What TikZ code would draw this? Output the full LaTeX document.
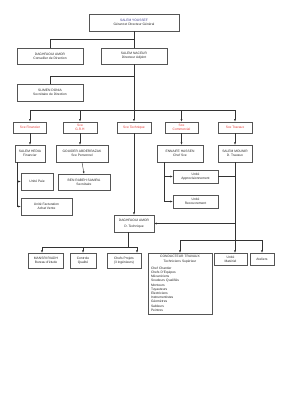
\documentclass[tikz,border=0pt]{standalone}
\usepackage{fontspec}
\setmainfont{Liberation Sans}
\usetikzlibrary{arrows.meta,calc}
\definecolor{boxc}{HTML}{555555}
\definecolor{linec}{HTML}{333333}
\definecolor{redt}{HTML}{E53935}
\definecolor{bluet}{HTML}{3A3A8C}
\begin{document}
\begin{tikzpicture}[x=1pt,y=-1pt,
  font=\fontsize{3.3}{4.2}\selectfont,
  box/.style={draw=boxc, line width=0.45pt, fill=white, inner sep=0pt, align=center, text=black!85},
  redbox/.style={box, text=redt},
  conn/.style={draw=linec, line width=0.4pt},
  arr/.style={conn, -{Latex[length=2.4pt,width=2pt]}}]
\useasboundingbox[fill=white] (0,0) rectangle (283,400);

% top levels
\node[box, minimum width=90pt, minimum height=17pt] (top) at (134,22.5) {{\color{bluet}SALEM YOUSSEF}\\Gérant et Directeur Général};
\node[box, minimum width=66pt, minimum height=16pt] (cons) at (50,56) {DAGHFAOUI AMOR\\Conseiller de Direction};
\node[box, minimum width=66pt, minimum height=16pt] (adj) at (134,56) {SALEM NACEUR\\Directeur Adjoint};
\node[box, minimum width=66pt, minimum height=17pt] (sec) at (50,92.5) {SLIMEN DONIA\\Secrétaire de Direction};

% services
\node[redbox, minimum width=33pt, minimum height=11.5pt] (fin) at (30,127.5) {Sce Financier};
\node[redbox, minimum width=34pt, minimum height=11.5pt] (grh) at (80,127.5) {Sce\\G.R.H};
\node[redbox, minimum width=34pt, minimum height=11.5pt] (tech) at (134,127.5) {Sce Technique};
\node[redbox, minimum width=33pt, minimum height=11.5pt] (com) at (181.5,127.5) {Sce\\Commercial};
\node[redbox, minimum width=34pt, minimum height=11.5pt] (trav) at (235,127.5) {Sce Travaux};

% second row
\node[box, minimum width=30pt, minimum height=17pt] (hedia) at (30,153.5) {SALEM HEDIA\\Financier};
\node[box, minimum width=52pt, minimum height=17pt] (gouider) at (82,153.5) {GOUIDER ABDERRAZAK\\Sce Personnel};
\node[box, minimum width=46pt, minimum height=17pt] (ennaife) at (180,153.5) {ENNAIFE HASSEN\\Chef Sce};
\node[box, minimum width=34pt, minimum height=17pt] (mounir) at (235,153.5) {SALEM MOUNIR\\D. Travaux};

% units
\node[box, minimum width=52pt, minimum height=16pt] (rabeh) at (84,182) {BEN RABEH SAMIRA\\Secrétaire};
\node[box, minimum width=32pt, minimum height=17pt] (paie) at (37,181.5) {Unité Paie};
\node[box, minimum width=51pt, minimum height=17pt] (factu) at (46.5,206.5) {Unité Facturation\\Achat Vente};
\node[box, minimum width=45pt, minimum height=13pt] (appro) at (195.5,176.5) {Unité\\Approvisionnement};
\node[box, minimum width=45pt, minimum height=13pt] (recouv) at (195.5,201.5) {Unité\\Recouvrement};

% technique
\node[box, minimum width=40pt, minimum height=17pt] (dtech) at (134,223.5) {DAGHFAOUI AMOR\\[2pt]D. Technique};
\node[box, minimum width=35pt, minimum height=15pt] (mansri) at (46,260.5) {MANSRI RIADH\\Bureau d'étude};
\node[box, minimum width=26pt, minimum height=15pt] (ctrl) at (83,260.5) {Controle\\Qualité};
\node[box, minimum width=34pt, minimum height=15pt] (chefs) at (124,260.5) {Chefs Projets\\(3 ingénieurs)};
\node[box, minimum width=64pt, minimum height=61pt, text width=58pt, align=left] (cond) at (180,283.5)
  {\makebox[58pt][c]{CONDUCTEUR TRAVAUX}\\\makebox[58pt][c]{Techniciens Supérieur}\\[3pt]
   Chef Chantier\\Chefs D'Equipes\\Mécaniciens\\Soudeurs Qualifiés\\Monteurs\\Tuyauteurs\\Electriciens\\Instrumentistes\\Géomètres\\Sableurs\\Peintres};
\node[box, minimum width=33pt, minimum height=12pt] (mat) at (230.5,259) {Unité\\Matériel};
\node[box, minimum width=24pt, minimum height=12pt] (atel) at (262,259) {Ateliers};

% junction coordinates
\coordinate (j1) at (134,39);
\coordinate (j2) at (134,76);
\coordinate (bus) at (134,110);
\coordinate (hv) at (17,162);
\coordinate (ev) at (164,162);
\coordinate (bus3) at (235,240);
\coordinate (dv) at (128,232);
\coordinate (bus2) at (128,247);

% connectors top
\draw[conn] (top.south) -- (adj.north);
\draw[conn] (j1) -| (cons.north);
\draw[conn] (adj.south) -- (bus);
\draw[conn] (j2) -| (sec.north);
\draw[conn] (fin.north |- bus) -- (trav.north |- bus);
\foreach \n in {fin,grh,tech,com,trav}{\draw[arr] (\n.north |- bus) -- (\n.north);}

\draw[arr] (fin.south) -- (fin.south |- hedia.north);
\draw[arr] (grh.south) -- (grh.south |- gouider.north);
\draw[arr] (com.south) -- (com.south |- ennaife.north);
\draw[arr] (trav.south) -- (mounir.north);
\draw[arr] (tech.south) -- (dtech.north);
\draw[arr] (gouider.south) -- (rabeh.north);

% financier units
\draw[conn] (hv) -- (hv |- factu.west);
\draw[arr] (hv |- paie.west) -- (paie.west);
\draw[arr] (hv |- factu.west) -- (factu.west);

% commercial units
\draw[conn] (ev) -- (ev |- recouv.west);
\draw[arr] (ev |- appro.west) -- (appro.west);
\draw[arr] (ev |- recouv.west) -- (recouv.west);

% travaux
\draw[conn] (mounir.south) -- (bus3);
\draw[conn] (appro.east) -- (appro.east -| mounir.south);
\draw[arr] (dtech.east -| mounir.south) -- (dtech.east);
\draw[conn] (cond.north |- bus3) -- (atel.north |- bus3);
\draw[arr] (cond.north |- bus3) -- (cond.north);
\draw[arr] (bus3) -- (bus3 |- mat.north);
\draw[arr] (atel.north |- bus3) -- (atel.north);

% technique sub
\draw[conn] (dv) -- (bus2);
\draw[conn] ([xshift=-4pt]mansri.north |- bus2) -- ([xshift=13pt]chefs.north |- bus2);
\draw[arr] ([xshift=-4pt]mansri.north |- bus2) -- ([xshift=-4pt]mansri.north);
\draw[arr] (ctrl.north |- bus2) -- (ctrl.north);
\draw[arr] ([xshift=13pt]chefs.north |- bus2) -- ([xshift=13pt]chefs.north);
\end{tikzpicture}
\end{document}
